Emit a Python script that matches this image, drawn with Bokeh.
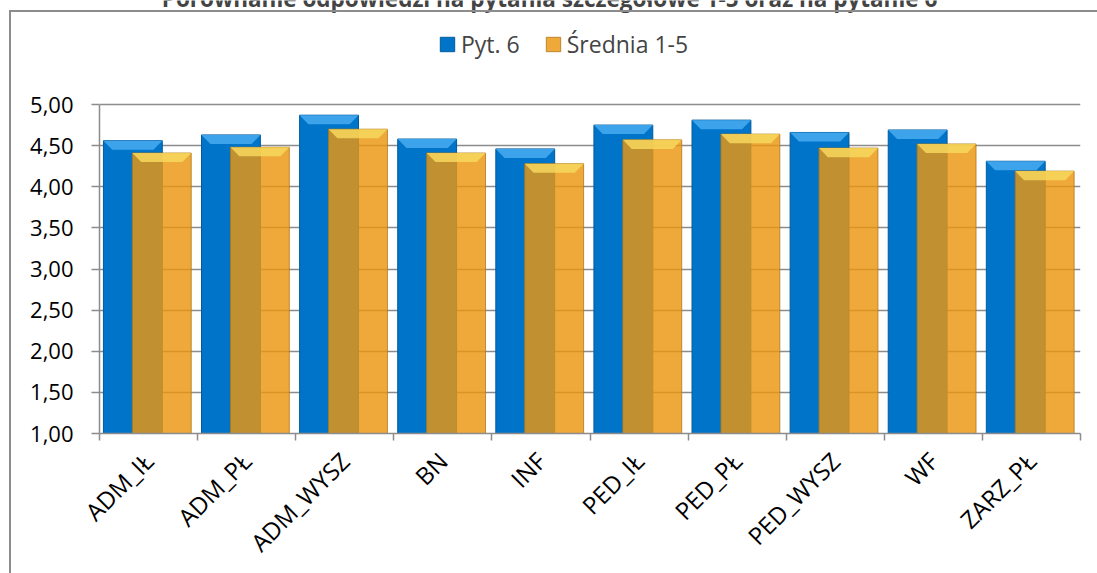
from bokeh.plotting import figure
from bokeh.models import (Range1d, FixedTicker, Legend, LegendItem, Label,
                          ColumnDataSource, InlineStyleSheet)
from bokeh.embed import file_html
from bokeh.resources import INLINE

# ---- data ----
categories = ["ADM_IŁ", "ADM_PŁ", "ADM_WYSZ", "BN", "INF",
              "PED_IŁ", "PED_PŁ", "PED_WYSZ", "WF", "ZARZ_PŁ"]
pyt6 = [4.56, 4.63, 4.87, 4.58, 4.46, 4.75, 4.81, 4.66, 4.69, 4.31]
srednia = [4.41, 4.48, 4.70, 4.41, 4.28, 4.57, 4.64, 4.47, 4.52, 4.19]
series_names = ["Pyt. 6", "Średnia 1-5"]
y_ticks = [1.0, 1.5, 2.0, 2.5, 3.0, 3.5, 4.0, 4.5, 5.0]
y_tick_labels = ["1,00", "1,50", "2,00", "2,50", "3,00", "3,50", "4,00", "4,50", "5,00"]
title_text = "Porównanie odpowiedzi na pytania szczegółowe 1-5 oraz na pytanie 6"

FONT = "Open Sans"
BLUE = "#0074C8"
ORANGE = "#EC960F"
W, H = 1097, 573
LEFT, RIGHT, BOTTOM = 99, 1080, 433      # frame edges in pixels
PX_PER_UNIT = 82.25                      # vertical scale of the value axis
y_lo, y_hi = y_ticks[0], y_ticks[-1]
y_top = y_lo + BOTTOM / PX_PER_UNIT      # frame reaches the top of the canvas

p = figure(width=W, height=H, output_backend="svg", toolbar_location=None,
           x_range=Range1d(-0.5, len(categories) - 0.5),
           y_range=Range1d(y_lo, y_top),
           min_border_left=LEFT, min_border_right=W - RIGHT, min_border_top=0,
           min_border_bottom=H - BOTTOM)
p.title.visible = False
p.outline_line_color = None
p.background_fill_color = "white"
p.border_fill_color = "white"
# outer chart-area border (left and top edges only are visible)
p.stylesheets = [InlineStyleSheet(css=(
    ":host { position: relative; }"
    ":host::after { content: ''; position: absolute; left: 9px; top: 10px;"
    " right: 0; bottom: 0; border-left: 2px solid #8C8C8C;"
    " border-top: 2px solid #8C8C8C; pointer-events: none; }"))]

xs = list(range(len(categories)))
bw = 0.60
off_b = -0.16
off_o = 0.135

src = ColumnDataSource(dict(
    xb=[x + off_b for x in xs], xo=[x + off_o for x in xs],
    pyt6=pyt6, srednia=srednia))

rb = p.vbar(x="xb", top="pyt6", bottom=y_lo, width=bw, source=src,
            fill_color=BLUE, line_color="#005A9C", line_width=1)

# bevel tops (derived from the data)
dx, dy = 0.09, 0.11
def bevel(centers, tops):
    px, py = [], []
    for c, t in zip(centers, tops):
        l, r = c - bw / 2, c + bw / 2
        px.append([l, r, r - dx, l + dx])
        py.append([t, t, t - dy, t - dy])
    return px, py

bx, by = bevel(src.data["xb"], pyt6)
ox, oy = bevel(src.data["xo"], srednia)
p.patches(bx, by, fill_color="#3DA4EC", line_color=None)
ro = p.vbar(x="xo", top="srednia", bottom=y_lo, width=bw, source=src,
            fill_color=ORANGE, fill_alpha=0.82, line_color="#B07818",
            line_alpha=0.8, line_width=1)
p.patches(ox, oy, fill_color="#F8D95E", fill_alpha=0.82, line_color=None)

# axes
p.yaxis.ticker = FixedTicker(ticks=y_ticks, minor_ticks=[])
p.yaxis.major_label_overrides = dict(zip(y_ticks, y_tick_labels))
p.yaxis.bounds = (y_lo, y_hi)
p.xaxis.ticker = FixedTicker(ticks=xs, minor_ticks=[x - 0.5 for x in xs] + [xs[-1] + 0.5])
p.xaxis.major_label_overrides = dict(zip(xs, categories))
p.xaxis.major_label_orientation = 0.785398

for ax in (p.xaxis[0], p.yaxis[0]):
    ax.axis_line_color = "#8C8C8C"
    ax.axis_line_width = 1.5
    ax.major_label_text_font = FONT
    ax.major_label_text_color = "black"
    ax.minor_tick_line_color = "#8C8C8C"
    ax.major_tick_line_color = "#8C8C8C"
    ax.major_tick_line_width = 1.5
    ax.minor_tick_line_width = 1.5

p.yaxis.major_label_text_font_size = "22px"
p.xaxis.major_label_text_font_size = "24px"
p.yaxis.major_tick_in = 0
p.yaxis.major_tick_out = 8
p.yaxis.major_label_standoff = 18
p.xaxis.major_tick_in = 0
p.xaxis.major_tick_out = 0
p.xaxis.minor_tick_in = 0
p.xaxis.minor_tick_out = 7
p.xaxis.major_label_standoff = 16

p.xgrid.grid_line_color = None
p.ygrid.ticker = FixedTicker(ticks=y_ticks)
p.ygrid.grid_line_color = "#8C8C8C"
p.ygrid.grid_line_width = 1.5

# legend (inside the frame, above the value range)
legend = Legend(items=[LegendItem(label=series_names[0], renderers=[rb]),
                       LegendItem(label=series_names[1], renderers=[ro])],
                orientation="horizontal", location=(339, 373),
                label_text_font=FONT, label_text_font_size="23px",
                glyph_width=18, glyph_height=18, label_standoff=5,
                spacing=24, padding=0, margin=0,
                border_line_color=None, background_fill_alpha=0)
p.add_layout(legend, "center")

# title, clipped at the top edge as in the original
p.add_layout(Label(x=450, y=BOTTOM + 2, x_units="screen", y_units="screen",
                   text=title_text, text_font=FONT, text_font_style="bold",
                   text_font_size="22.5px", text_align="center",
                   text_baseline="alphabetic"))

open("out.html", "w").write(file_html(p, INLINE))
